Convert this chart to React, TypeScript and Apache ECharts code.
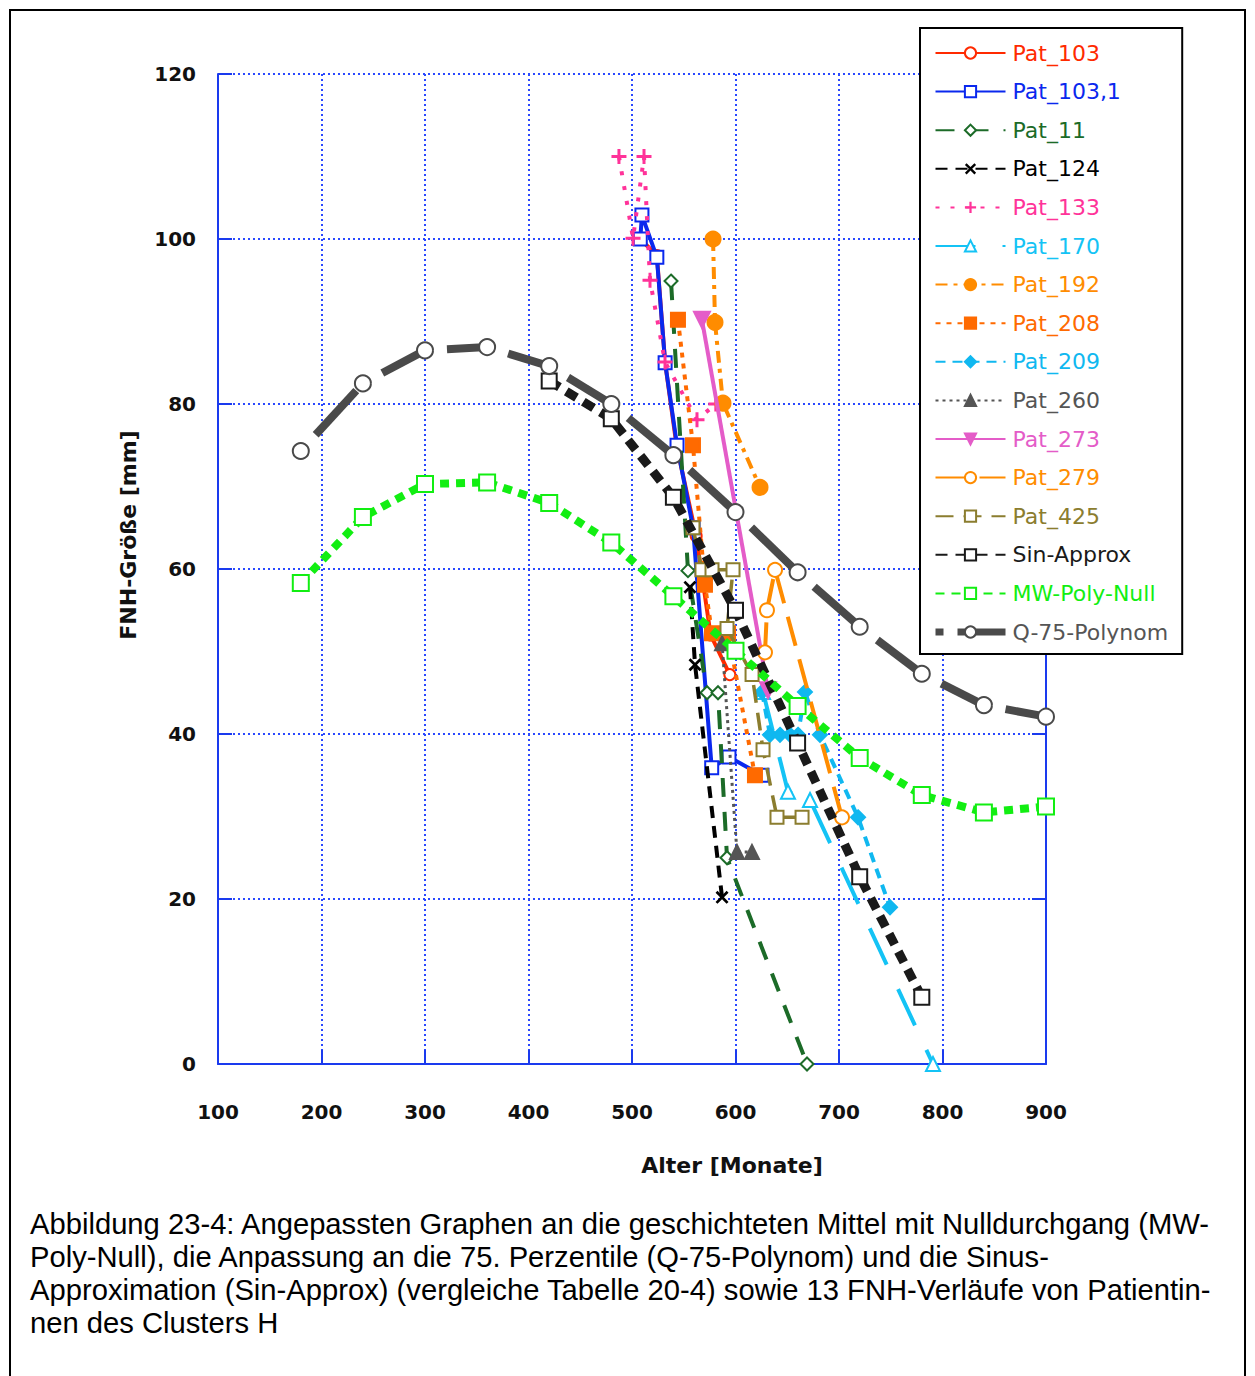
import React, { useEffect, useRef } from "react";
import * as echarts from "echarts";

// ---------- data (x = Alter [Monate], y = FNH-Größe [mm]) ----------
const pat103 = [[508, 100], [524, 98], [532, 85], [543, 75], [562, 64], [576, 52], [594.5, 47.2]];
const pat1031 = [[508, 100], [509.6, 102.9], [524, 97.8], [532, 85], [543.5, 75], [559, 65], [577, 35.9], [593.7, 37.2], [625.6, 35]];
const pat11 = [[537.7, 94.9], [554.1, 59.8], [572.5, 45], [583.1, 45], [591.8, 25], [669.1, 0]];
const pat124 = [[556, 57.8], [560.9, 48.4], [587, 20.2]];
const pat133 = [[487.4, 110], [501, 100.1], [511.6, 110], [517.4, 95], [531.9, 85.1], [562.8, 78.1], [581, 80]];
const pat170 = [[626.6, 45.1], [650.7, 33], [672, 32], [790.8, 0]];
const pat192 = [[578.3, 100], [580.2, 89.9], [587.9, 80.1], [623.7, 69.9]];
const pat208 = [[544.4, 90.2], [558.9, 75], [570.5, 58.1], [577.3, 52.2], [592.8, 52.2], [618.8, 35]];
const pat209 = [[625.6, 45.1], [633.3, 39.9], [643, 39.9], [652.7, 39.9], [660.4, 39.9], [667.1, 45.1], [681.6, 39.9], [718.4, 29.9], [749.3, 19]];
const pat260 = [[587, 51], [601.4, 25.7], [615.9, 25.7]];
const pat273 = [[567.6, 90.2], [631.4, 45.3]];
const pat279 = [[628.5, 49.9], [630.4, 55], [638.2, 59.9], [702.9, 29.9]];
const pat425 = [[558.9, 65], [567.6, 59.9], [577.3, 59.9], [597.6, 59.9], [591.8, 52.8], [616, 47.2], [626.6, 38.1], [640.1, 29.9], [664.3, 29.9]];

const sinX = [420, 480, 540, 600, 660, 720, 780];
const sinY = [82.8, 78.2, 68.7, 55, 38.9, 22.7, 8.1];
const mwX = [180, 240, 300, 360, 420, 480, 540, 600, 660, 720, 780, 840, 900];
const mwY = [58.3, 66.3, 70.3, 70.5, 68, 63.2, 56.7, 50.1, 43.4, 37.1, 32.6, 30.5, 31.2];
const q75X = [180, 240, 300, 360, 420, 480, 540, 600, 660, 720, 780, 840, 900];
const q75Y = [74.3, 82.5, 86.5, 86.9, 84.6, 80, 73.8, 66.9, 59.6, 53, 47.3, 43.5, 42.1];

const xTicks = { min: 100, max: 900, interval: 100 };
const yTicks = { min: 0, max: 120, interval: 20 };

const captionLines = [
  "Abbildung 23-4: Angepassten Graphen an die geschichteten Mittel mit Nulldurchgang (MW-",
  "Poly-Null), die Anpassung an die 75. Perzentile (Q-75-Polynom) und die Sinus-",
  "Approximation (Sin-Approx) (vergleiche Tabelle 20-4) sowie 13 FNH-Verläufe von Patientin-",
  "nen des Clusters H",
];

const zip = (xs: number[], ys: number[]) => xs.map((x, i) => [x, ys[i]]);

const PLUS = "path://M4,0H6V4H10V6H6V10H4V6H0V4H4Z";
const CROSS = "path://M0,1.5L1.5,0L5,3.5L8.5,0L10,1.5L6.5,5L10,8.5L8.5,10L5,6.5L1.5,10L0,8.5L3.5,5Z";

type Def = {
  name: string;
  data: number[][];
  color: string;
  width: number;
  dash: any;
  symbol: string;
  size: number;
  rotate?: number;
};

const defs: Def[] = [
  { name: "Pat_103", data: pat103, color: "#ff2a00", width: 4, dash: "solid", symbol: "emptyCircle", size: 11 },
  { name: "Pat_103,1", data: pat1031, color: "#0a28ee", width: 4, dash: "solid", symbol: "emptyRect", size: 13 },
  { name: "Pat_11", data: pat11, color: "#1c6b28", width: 4, dash: [19, 15], symbol: "emptyDiamond", size: 13 },
  { name: "Pat_124", data: pat124, color: "#000000", width: 4, dash: [12, 8], symbol: CROSS, size: 13 },
  { name: "Pat_133", data: pat133, color: "#ff3399", width: 4, dash: [4, 11], symbol: PLUS, size: 15 },
  { name: "Pat_170", data: pat170, color: "#14c3f5", width: 4, dash: [40, 27], symbol: "emptyTriangle", size: 14 },
  { name: "Pat_192", data: pat192, color: "#ff8c00", width: 4, dash: [12, 6, 4, 6], symbol: "circle", size: 15 },
  { name: "Pat_208", data: pat208, color: "#ff6a00", width: 4, dash: [5, 6], symbol: "rect", size: 14 },
  { name: "Pat_209", data: pat209, color: "#10b8f0", width: 4, dash: [10, 7], symbol: "diamond", size: 14 },
  { name: "Pat_260", data: pat260, color: "#555555", width: 3, dash: [3, 4], symbol: "triangle", size: 14 },
  { name: "Pat_273", data: pat273, color: "#e45cc8", width: 4, dash: "solid", symbol: "triangle", size: 16, rotate: 180 },
  { name: "Pat_279", data: pat279, color: "#ff8c00", width: 4, dash: [30, 14], symbol: "emptyCircle", size: 14 },
  { name: "Pat_425", data: pat425, color: "#8b7d2f", width: 3.5, dash: [18, 10], symbol: "emptyRect", size: 13 },
  { name: "Sin-Approx", data: zip(sinX, sinY), color: "#1a1a1a", width: 9, dash: [12, 8], symbol: "emptyRect", size: 15 },
  { name: "MW-Poly-Null", data: zip(mwX, mwY), color: "#12ee12", width: 8, dash: [9, 7], symbol: "emptyRect", size: 16 },
];

const Q75_COLOR = "#4a4a4a";
const AXIS_BLUE = "#1a3aee";
const GRID_BLUE = "#2a48ff";

export default function App() {
  const ref = useRef<HTMLDivElement>(null);

  useEffect(() => {
    if (!ref.current) return;
    const chart = echarts.init(ref.current, undefined, { renderer: "svg" });

    const series: any[] = defs.map((d, i) => ({
      type: "line",
      name: d.name,
      data: d.data,
      symbol: d.symbol,
      symbolSize: d.size,
      symbolRotate: d.rotate || 0,
      showSymbol: true,
      showAllSymbol: true,
      lineStyle: { color: d.color, width: d.width, type: d.dash, cap: "butt" },
      itemStyle: { color: d.color, borderColor: d.color, borderWidth: d.symbol.startsWith("path") ? 0 : 2 },
      emphasis: { disabled: true },
      silent: true,
      z: 2 + i * 0.01,
    }));

    const q75 = zip(q75X, q75Y);
    const segs = q75.slice(0, -1).map((p, i) => ({ coords: [p, q75[i + 1]] }));
    series.push({
      type: "lines",
      name: "q75seg",
      coordinateSystem: "cartesian2d",
      data: segs,
      lineStyle: { color: Q75_COLOR, width: 8, type: [60, 22], dashOffset: 60, opacity: 1, curveness: 0, cap: "butt" },
      silent: true,
      z: 2.5,
    });
    series.push({
      type: "line",
      name: "Q-75-Polynom",
      data: q75,
      symbol: "emptyCircle",
      symbolSize: 16,
      showAllSymbol: true,
      lineStyle: { color: Q75_COLOR, width: 0, opacity: 0 },
      itemStyle: { color: Q75_COLOR, borderColor: Q75_COLOR, borderWidth: 2 },
      emphasis: { disabled: true },
      silent: true,
      z: 2.6,
    });

    const legendData: any[] = defs.map((d) => ({ name: d.name, textStyle: { color: d.color } }));
    legendData.push({
      name: "Q-75-Polynom",
      textStyle: { color: "#555555" },
      lineStyle: { opacity: 1, color: Q75_COLOR, width: 7, type: [8, 14, 48, 0] },
    });

    const font = "DejaVu Sans";

    chart.setOption({
      animation: false,
      backgroundColor: "#ffffff",
      grid: { left: 218, right: 209, top: 74, bottom: 312, containLabel: false },
      xAxis: {
        type: "value",
        min: xTicks.min,
        max: xTicks.max,
        interval: xTicks.interval,
        axisLine: { show: true, lineStyle: { color: AXIS_BLUE, width: 2 } },
        axisTick: { show: true, inside: true, length: 14, lineStyle: { color: AXIS_BLUE, width: 2 } },
        axisLabel: { color: "#111", fontFamily: font, fontWeight: "bold", fontSize: 20, margin: 38 },
        splitLine: { show: true, lineStyle: { color: GRID_BLUE, width: 2, type: [2, 3] } },
      },
      yAxis: [
        {
          type: "value",
          min: yTicks.min,
          max: yTicks.max,
          interval: yTicks.interval,
          axisLine: { show: true, lineStyle: { color: AXIS_BLUE, width: 2 } },
          axisTick: { show: true, inside: true, length: 14, lineStyle: { color: AXIS_BLUE, width: 2 } },
          axisLabel: { color: "#111", fontFamily: font, fontWeight: "bold", fontSize: 20, margin: 22 },
          splitLine: { show: true, lineStyle: { color: GRID_BLUE, width: 2, type: [2, 3] } },
        },
        {
          type: "value",
          position: "right",
          min: yTicks.min,
          max: yTicks.max,
          interval: yTicks.interval,
          axisLine: { show: true, lineStyle: { color: AXIS_BLUE, width: 2 } },
          axisTick: { show: true, inside: true, length: 14, lineStyle: { color: AXIS_BLUE, width: 2 } },
          axisLabel: { show: false },
          splitLine: { show: false },
        },
      ],
      legend: {
        show: true,
        orient: "vertical",
        left: 920,
        top: 28,
        padding: [13, 14, 10, 12],
        backgroundColor: "#ffffff",
        borderColor: "#000000",
        borderWidth: 2,
        itemWidth: 70,
        itemHeight: 14,
        itemGap: 14.6,
        selectedMode: false,
        textStyle: { fontFamily: font, fontSize: 22, lineHeight: 24, padding: [0, 0, 0, 2] },
        data: legendData,
        z: 10,
      },
      series,
      graphic: [
        {
          type: "rect",
          shape: { x: 10, y: 10, width: 1235, height: 1380 },
          style: { fill: "none", stroke: "#000", lineWidth: 2 },
          silent: true,
          z: 0,
        },
        {
          type: "text",
          x: 732,
          y: 1165,
          style: { text: "Alter [Monate]", fontFamily: font, fontWeight: "bold", fontSize: 22, fill: "#111", align: "center", verticalAlign: "middle" },
        },
        {
          type: "text",
          x: 128,
          y: 535,
          rotation: Math.PI / 2,
          style: { text: "FNH-Größe [mm]", fontFamily: font, fontWeight: "bold", fontSize: 22, fill: "#111", align: "center", verticalAlign: "middle" },
        },
        ...captionLines.map((t, i) => ({
          type: "text",
          x: 30,
          y: 1224 + i * 33,
          style: { text: t, fontFamily: "Liberation Sans", fontSize: 29.2, fill: "#000", align: "left", verticalAlign: "middle" },
        })),
      ],
    });

    return () => chart.dispose();
  }, []);

  return <div ref={ref} style={{ position: "absolute", left: 0, top: 0, width: 1255, height: 1376 }} />;
}
